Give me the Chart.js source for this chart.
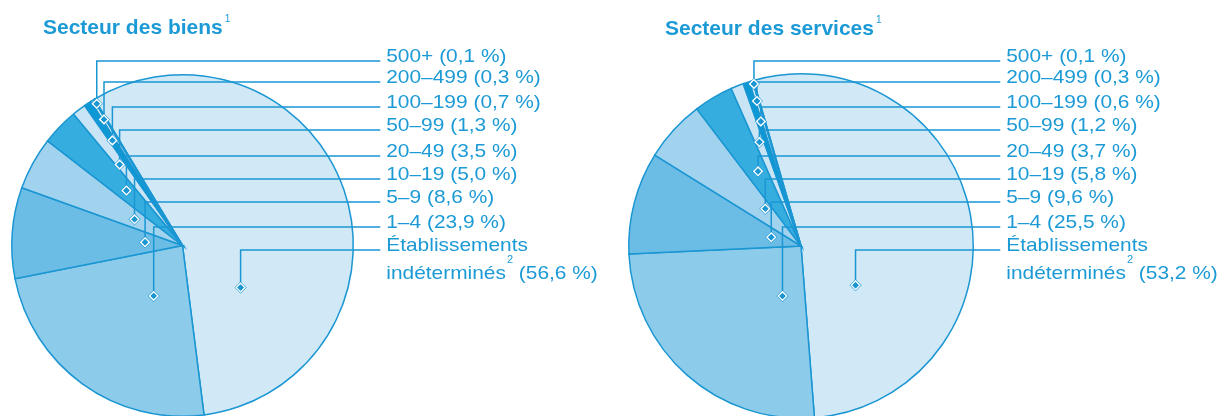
<!DOCTYPE html>
<html lang="fr">
<head>
<meta charset="utf-8">
<title>Établissements selon la taille</title>
<script src="https://cdn.jsdelivr.net/npm/chart.js@4.4.1/dist/chart.umd.min.js"></script>
<style>
  html, body { margin: 0; padding: 0; background: #fff; overflow: hidden; }
  .wrap { position: relative; width: 1227px; height: 416px; overflow: hidden; }
  canvas { position: absolute; top: 0; }
  #biensChart { left: 0; }
  #servicesChart { left: 614px; }
</style>
</head>
<body>
<div class="wrap">
  <canvas id="biensChart" width="614" height="430"></canvas>
  <canvas id="servicesChart" width="613" height="430"></canvas>
</div>
<script>
// Size classes, listed in the same order as the labels (top to bottom)
const sizeClasses = ['500+', '200–499', '100–199', '50–99', '20–49', '10–19', '5–9', '1–4', 'Établissements indéterminés'];
const biensPct = [0.1, 0.3, 0.7, 1.3, 3.5, 5.0, 8.6, 23.9, 56.6];
const servicesPct = [0.1, 0.3, 0.6, 1.2, 3.7, 5.8, 9.6, 25.5, 53.2];
const sliceColors = ['#0b98d4', '#d4ebf8', '#0b98d4', '#c9e5f5', '#35aedf', '#a1d3ef', '#6cbde6', '#8ccbea', '#d1e8f6'];

const BLUE = '#1a96d3';
const TEXT_BLUE = '#1b9ad6';
const FONT = "'Liberation Sans', Arial, sans-serif";
const ROW_Y = [61, 82, 107, 130, 156, 179, 202, 227, 250];
const TEXT_STRETCH = 1.1;

const fmtPct = v => '(' + v.toFixed(1).replace('.', ',') + ' %)';

// draws title, leader lines, markers and labels on top of the pie
function makeLeaderPlugin(cfg) {
  return {
    id: 'leaders',
    afterDraw(chart) {
      const ctx = chart.ctx;
      const arcs = chart.getDatasetMeta(0).data;
      const n = arcs.length;
      const cx = arcs[0].x, cy = arcs[0].y, R = arcs[0].outerRadius;
      const labelX = cx + R + 33;
      const lineEnd = labelX - 6;

      ctx.save();

      // Title + superscript
      ctx.fillStyle = TEXT_BLUE;
      ctx.textBaseline = 'alphabetic';
      ctx.font = 'bold 21px ' + FONT;
      ctx.fillText(cfg.title, cfg.titleX, cfg.titleY);
      const tw = ctx.measureText(cfg.title).width;
      ctx.font = '10px ' + FONT;
      ctx.fillText('1', cfg.titleX + tw + 2, cfg.titleY - 12);

      // leader lines
      const markers = [];
      ctx.strokeStyle = BLUE;
      ctx.lineWidth = 1.5;
      cfg.values.forEach((v, i) => {
        const arc = arcs[n - 1 - i];
        const a = arc.startAngle + cfg.angleFrac[i] * (arc.endAngle - arc.startAngle);
        const r = cfg.radiusFrac[i] * R;
        const mx = cx + Math.cos(a) * r;
        const my = cy + Math.sin(a) * r;
        const y = ROW_Y[i];
        ctx.beginPath();
        ctx.moveTo(mx, my);
        ctx.lineTo(mx, y);
        ctx.lineTo(lineEnd, y);
        ctx.stroke();
        markers.push([mx, my]);
      });

      // diamond markers
      markers.forEach(([mx, my]) => {
        const dia = (s) => {
          ctx.beginPath();
          ctx.moveTo(mx, my - s);
          ctx.lineTo(mx + s, my);
          ctx.lineTo(mx, my + s);
          ctx.lineTo(mx - s, my);
          ctx.closePath();
        };
        ctx.fillStyle = BLUE;
        dia(6); ctx.fill();
        ctx.strokeStyle = '#fff';
        ctx.lineWidth = 1.5;
        dia(4.2); ctx.stroke();
        ctx.fillStyle = BLUE;
        dia(3.2); ctx.fill();
      });

      // labels (slightly widened text, like the original)
      const drawText = (txt, x, y, font) => {
        ctx.save();
        ctx.font = font;
        ctx.translate(x, y);
        ctx.scale(TEXT_STRETCH, 1);
        ctx.fillText(txt, 0, 0);
        ctx.restore();
        ctx.font = font;
        return ctx.measureText(txt).width * TEXT_STRETCH;
      };
      const f = '19px ' + FONT;
      ctx.fillStyle = TEXT_BLUE;
      cfg.values.forEach((v, i) => {
        const y = ROW_Y[i] + 0.5;
        if (i < n - 1) {
          drawText(sizeClasses[i] + ' ' + fmtPct(v), labelX, y, f);
        } else {
          const [w1, w2] = sizeClasses[i].split(' ');
          drawText(w1, labelX, y, f);
          const y2 = y + 28.5;
          let x = labelX + drawText(w2, labelX, y2, f);
          x += 1 + drawText('2', x + 1, y2 - 16, '10px ' + FONT);
          drawText(' ' + fmtPct(v), x, y2, f);
        }
      });

      ctx.restore();
    }
  };
}

function buildPie(id, values, rotation, padding, cfg) {
  // pie is drawn clockwise starting with "indéterminés", so feed the arrays reversed
  const data = [...values].reverse();
  const colors = [...sliceColors].reverse();
  return new Chart(document.getElementById(id), {
    type: 'pie',
    data: {
      labels: [...sizeClasses].reverse(),
      datasets: [{
        data,
        backgroundColor: colors,
        borderColor: BLUE,
        borderWidth: 1.5,
        borderJoinStyle: 'miter'
      }]
    },
    options: {
      responsive: false,
      animation: false,
      rotation,
      layout: { padding },
      plugins: {
        legend: { display: false },
        tooltip: { enabled: false }
      }
    },
    plugins: [makeLeaderPlugin(Object.assign({ values }, cfg))]
  });
}

buildPie('biensChart', biensPct, -31,
  { left: 11, top: 74, right: 260, bottom: 13 },
  {
    title: 'Secteur des biens', titleX: 43, titleY: 33.5,
    angleFrac: [0.5, 0.5, 0.5, 0.38, 0.53, 0.49, 0.52, 0.43, 0.77],
    radiusFrac: [0.97, 0.87, 0.74, 0.60, 0.46, 0.32, 0.22, 0.34, 0.42]
  });

buildPie('servicesChart', servicesPct, -16,
  { left: 14, top: 73, right: 253, bottom: 11 },
  {
    title: 'Secteur des services', titleX: 51, titleY: 35,
    angleFrac: [0.5, 0.5, 0.8, 0.49, 0.55, 0.69, 0.55, 0.27, 0.74],
    radiusFrac: [0.98, 0.88, 0.76, 0.65, 0.50, 0.30, 0.18, 0.31, 0.39]
  });
</script>
</body>
</html>
